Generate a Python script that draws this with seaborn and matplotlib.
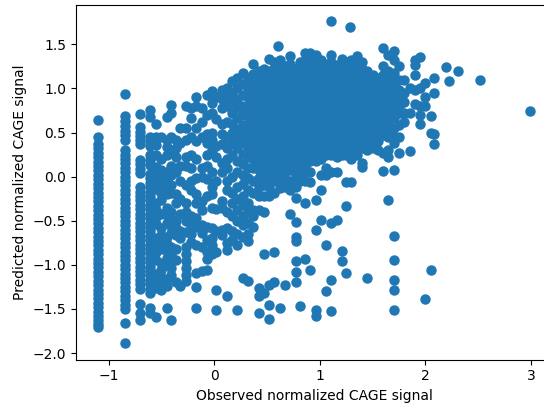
import matplotlib
matplotlib.use("Agg")
import matplotlib.pyplot as plt
import seaborn as sns
import pandas as pd

# ---- data (observed, predicted) ----
# observed value of the zero-count column
obs_zero = -1.10
pred_zero = [0.64, 0.45, 0.37, 0.32, 0.27, 0.22, 0.17, 0.12, 0.07, 0.02, -0.03, -0.08,
             -0.13, -0.18, -0.23, -0.28, -0.33, -0.38, -0.43, -0.48, -0.53, -0.58, -0.63,
             -0.68, -0.73, -0.78, -0.83, -0.88, -0.93, -0.98, -1.03, -1.08, -1.13, -1.18,
             -1.23, -1.28, -1.33, -1.38, -1.43, -1.48, -1.53, -1.58, -1.63, -1.67, -1.71]

# discrete low-count columns
low_cols = [
    (-0.85, [0.94, 0.69, 0.63, 0.57, 0.52, 0.47, 0.42, 0.30, 0.25, 0.20, 0.15, 0.10, 0.05,
             0.00, -0.05, -0.10, -0.15, -0.20, -0.25, -0.30, -0.35, -0.40, -0.45, -0.50,
             -0.55, -0.60, -0.65, -0.70, -0.75, -0.80, -0.85, -0.90, -0.95, -1.00, -1.05,
             -1.10, -1.15, -1.20, -1.25, -1.30, -1.35, -1.40, -1.45, -1.50, -1.66, -1.89]),
    (-0.70, [0.71, 0.56, 0.51, 0.46, 0.41, 0.37, 0.19, 0.14, 0.09, 0.04, -0.12, -0.17,
             -0.22, -0.27, -0.32, -0.37, -0.42, -0.47, -0.52, -0.57, -0.62, -0.67, -0.72,
             -0.77, -0.82, -0.87, -0.92, -0.97, -1.02, -1.07, -1.12, -1.17, -1.22, -1.27,
             -1.44, -1.55, -1.63]),
    (-0.61, [0.75, 0.68, 0.45, 0.40, 0.35, 0.24, 0.19, 0.13, 0.03, -0.02, -0.07, -0.12,
             -0.17, -0.22, -0.27, -0.32, -0.37, -0.42, -0.47, -0.52, -0.57, -0.62, -0.67,
             -0.72, -0.77, -0.82, -0.87, -0.92, -0.97, -1.02, -1.07, -1.12, -1.17, -1.22,
             -1.27, -1.32, -1.49, -1.55]),
]

left_band_cols = [
    (-0.55, [0.60, 0.45, 0.36, 0.25, 0.11, 0.02, -0.06, -0.14, -0.30, -0.38, -0.46,
             -0.54, -0.70, -0.78, -0.86, -0.94, -1.10, -1.18, -1.26, -1.59]),
    (-0.50, [0.45, 0.20, 0.08, -0.02, -0.10, -0.18, -0.26, -0.42, -0.58, -0.66,
             -0.74, -0.82, -0.98, -1.06, -1.14, -1.22, -1.28]),
    (-0.45, [0.68, 0.42, 0.34, 0.25, 0.05, -0.04, -0.12, -0.20, -0.36, -0.44, -0.52,
             -0.68, -0.76, -0.84, -0.92, -1.00, -1.16, -1.24, -1.49]),
    (-0.41, [0.81, 0.72, 0.45, 0.30, 0.12, 0.02, -0.10, -0.18, -0.40, -0.48,
             -0.56, -0.64, -0.80, -0.88, -0.96, -1.04, -1.12, -1.62]),
    (-0.36, [0.42, 0.32, 0.22, 0.05, -0.20, -0.30, -0.50, -0.58, -0.66, -0.82,
             -0.95, -1.19]),
    (-0.32, [0.55, 0.38, 0.12, -0.05, -0.25, -0.42, -0.62, -0.70, -1.24]),
    (-0.27, [0.80, 0.55, 0.41, 0.22, 0.12, -0.10, -0.30, -0.40, -0.50, -0.63,
             -0.80, -0.88, -0.96, -1.04, -1.12, -1.18]),
    (-0.22, [0.78, 0.67, 0.45, 0.25, 0.10, -0.05, -0.15, -0.45, -0.55, -0.65,
             -0.74]),
]

mid_cols = [
    (-0.17, [0.90, 0.80, 0.55, 0.40, 0.20, -0.02, -0.20, -0.30, -0.47, -0.57,
             -0.78, -1.09, -1.25, -1.49]),
    (-0.12, [0.78, 0.62, 0.45, 0.10, 0.00, -0.28, -0.38, -0.55, -0.64, -0.80,
             -1.07]),
    (-0.07, [0.93, 0.70, 0.48, 0.38, 0.25, 0.12, -0.03, -0.22, -0.57, -0.72,
             -0.85, -0.93, -1.06]),
    (-0.02, [0.97, 0.84, 0.72, 0.50, 0.42, 0.30, 0.05, -0.12, -0.20, -0.35,
             -0.58, -0.70, -0.78, -0.88]),
    (0.02, [0.90, 0.65, 0.35, 0.22, -0.05, -0.37, -0.62, -0.86, -1.28, -1.51]),
    (0.07, [0.98, 0.88, 0.78, 0.60, 0.48, 0.37, 0.15, 0.05, -0.28, -0.35,
            -0.60, -0.66]),
    (0.12, [1.00, 0.90, 0.80, 0.62, 0.45, 0.32, 0.20, 0.10, -0.05, -0.15, -0.40,
            -0.58, -0.75, -0.83, -1.35]),
    (0.17, [1.08, 0.95, 0.85, 0.72, 0.60, 0.50, 0.38, 0.25, 0.00, -0.18, -0.30,
            -0.45, -0.62, -0.72]),
    (0.22, [1.12, 1.00, 0.88, 0.78, 0.66, 0.54, 0.44, 0.32, 0.18, 0.05, -0.12, -0.25,
            -0.38, -0.50, -0.65, -0.78, -1.51]),
    (0.27, [1.17, 1.05, 0.92, 0.80, 0.70, 0.58, 0.48, 0.38, 0.26, 0.14, 0.02, -0.08,
            -0.22, -0.32, -0.45, -0.55, -0.68, -1.15]),
    (0.32, [1.12, 1.00, 0.90, 0.80, 0.70, 0.60, 0.50, 0.42, 0.32, 0.22, 0.10, -0.02,
            -0.15, -0.30, -0.40, -0.52, -0.65, -0.73, -1.18]),
    (0.37, [1.28, 1.16, 1.05, 0.95, 0.86, 0.76, 0.66, 0.58, 0.50, 0.40, 0.30, 0.20, 0.10,
            -0.05, -0.18, -0.38, -0.45, -0.57]),
    (0.42, [1.20, 1.10, 1.00, 0.92, 0.84, 0.76, 0.68, 0.60, 0.52, 0.44, 0.36, 0.28, 0.18,
            0.08, -0.02, -0.12, -0.22, -0.38, -1.26, -1.35, -1.55]),
]

core_cols = [
    (0.47, [1.22, 1.13, 1.05, 0.97, 0.90, 0.82, 0.75, 0.67, 0.60, 0.52, 0.45, 0.37, 0.30,
            0.22, 0.15, 0.07, 0.00, -0.10, -0.22, -0.40, -0.88, -1.32]),
    (0.52, [1.33, 1.20, 1.12, 1.04, 0.96, 0.88, 0.80, 0.72, 0.64, 0.56, 0.48, 0.40, 0.32,
            0.24, 0.16, 0.08, 0.00, -0.12, -0.22, -1.23, -1.45, -1.61]),
    (0.57, [1.30, 1.22, 1.15, 1.07, 1.00, 0.92, 0.85, 0.77, 0.70, 0.62, 0.55, 0.47, 0.40,
            0.32, 0.25, 0.17, 0.10, 0.02, -0.05, -0.18, -0.85, -1.19]),
    (0.60, [1.48]),
    (0.62, [1.32, 1.24, 1.16, 1.08, 1.00, 0.92, 0.84, 0.76, 0.68, 0.60, 0.52, 0.44, 0.36,
            0.28, 0.20, 0.12, 0.04, -0.04, -0.13, -1.49]),
    (0.67, [1.25, 1.17, 1.10, 1.02, 0.95, 0.87, 0.80, 0.72, 0.65, 0.57, 0.50, 0.42, 0.35,
            0.27, 0.20, 0.12, 0.05, -0.03, -0.12, -1.23]),
    (0.72, [1.37, 1.28, 1.20, 1.12, 1.04, 0.96, 0.88, 0.80, 0.72, 0.64, 0.56, 0.48, 0.40,
            0.32, 0.24, 0.16, 0.08, -0.05, -0.15, -0.42]),
    (0.77, [1.22, 1.15, 1.07, 1.00, 0.92, 0.85, 0.77, 0.70, 0.62, 0.55, 0.47, 0.40, 0.32,
            0.25, 0.17, 0.10, 0.02, -0.05, -0.12, -0.24, -0.51, -0.68, -0.73, -0.96, -1.08,
            -1.19]),
    (0.81, [1.30, 1.22, 1.14, 1.06, 0.98, 0.90, 0.82, 0.74, 0.66, 0.58, 0.50, 0.42, 0.34,
            0.26, 0.18, 0.10, 0.02, -0.05, -1.47]),
    (0.86, [1.40, 1.32, 1.25, 1.17, 1.10, 1.02, 0.95, 0.87, 0.80, 0.72, 0.65, 0.57, 0.50,
            0.42, 0.35, 0.27, 0.20, 0.12, 0.05, -0.05, -0.30, -0.93]),
    (0.91, [1.40, 1.30, 1.22, 1.14, 1.06, 0.98, 0.90, 0.82, 0.74, 0.66, 0.58, 0.50, 0.42,
            0.34, 0.26, 0.18, 0.05, -0.06, -1.06]),
    (0.96, [1.38, 1.30, 1.22, 1.15, 1.07, 1.00, 0.92, 0.85, 0.77, 0.70, 0.62, 0.55, 0.47,
            0.40, 0.32, 0.25, 0.18, -0.26, -0.60, -1.51, -1.58]),
    (1.01, [1.32, 1.25, 1.17, 1.10, 1.02, 0.95, 0.87, 0.80, 0.72, 0.65, 0.57, 0.50, 0.42,
            0.35, 0.27, 0.20, 0.02, -0.15, -0.49]),
    (1.06, [1.28, 1.20, 1.12, 1.04, 0.96, 0.88, 0.80, 0.72, 0.64, 0.56, 0.48, 0.40, 0.32,
            0.24, 0.10, 0.02, -0.77, -1.30]),
    (1.11, [1.76, 1.38, 1.30, 1.22, 1.15, 1.07, 1.00, 0.92, 0.85, 0.77, 0.70, 0.62, 0.55,
            0.47, 0.40, 0.32, 0.25, 0.05, -0.53, -1.17, -1.52]),
    (1.16, [1.26, 1.18, 1.10, 1.02, 0.94, 0.86, 0.78, 0.70, 0.62, 0.54, 0.46, 0.38, 0.30,
            0.22, 0.05, -0.49]),
    (1.21, [1.33, 1.22, 1.15, 1.07, 1.00, 0.92, 0.85, 0.77, 0.70, 0.62, 0.55, 0.47, 0.40,
            0.32, 0.25, -0.84, -0.96]),
    (1.25, [1.30, 1.20, 1.12, 1.04, 0.96, 0.88, 0.80, 0.72, 0.64, 0.56, 0.48, 0.40, 0.32,
            0.24, -0.06, -0.33, -1.09]),
    (1.29, [1.70]),
    (1.30, [1.32, 1.25, 1.17, 1.10, 1.02, 0.95, 0.87, 0.80, 0.72, 0.65, 0.57, 0.50, 0.42,
            0.35, 0.27, 0.20, -0.06]),
    (1.35, [1.37, 1.28, 1.20, 1.12, 1.04, 0.96, 0.88, 0.80, 0.72, 0.64, 0.56, 0.48, 0.40,
            0.32, 0.24]),
    (1.40, [1.30, 1.22, 1.15, 1.07, 1.00, 0.92, 0.85, 0.77, 0.70, 0.62, 0.55, 0.47, 0.40,
            0.32, 0.15, 0.11]),
    (1.45, [1.20, 1.12, 1.04, 0.96, 0.88, 0.80, 0.72, 0.64, 0.56, 0.48, 0.40, 0.30, -1.15]),
    (1.50, [1.15, 1.07, 1.00, 0.92, 0.85, 0.77, 0.70, 0.62, 0.55, 0.47, 0.40, 0.32]),
    (1.55, [1.12, 1.04, 0.96, 0.88, 0.80, 0.72, 0.64, 0.56, 0.48, 0.40, 0.30]),
    (1.60, [1.46, 1.25, 1.15, 1.07, 1.00, 0.92, 0.85, 0.77, 0.70, 0.62, 0.55, 0.47, 0.27,
            0.06]),
    (1.65, [1.38, 1.20, 1.10, 1.02, 0.94, 0.86, 0.78, 0.70, 0.62, 0.54, 0.45, 0.30, 0.22,
            -0.26]),
]

right_cols = [
    (1.70, [1.42, 1.32, 1.18, 1.08, 1.00, 0.90, 0.82, 0.74, 0.66, 0.55, 0.45, 0.38, 0.08,
            -0.67, -0.94, -1.17, -1.29, -1.51]),
    (1.75, [1.25, 1.10, 0.98, 0.88, 0.80, 0.72, 0.58, 0.45, 0.27]),
    (1.80, [1.10, 0.95, 0.85, 0.72, 0.62]),
    (1.85, [1.00, 0.72, 0.29]),
    (1.90, [1.32, 1.27, 1.15, 0.98, 0.82]),
    (1.95, [1.36, 1.00, 0.80, 0.70, 0.60]),
    (2.00, [1.06, 0.90, 0.80, -1.39]),
    (2.05, [0.69, 0.50, -1.06]),
    (2.08, [1.12, 0.95, 0.48, 0.37]),
    (2.20, [1.245]),
    (2.22, [1.083]),
    (2.31, [1.20]),
    (2.52, [1.09]),
    (2.99, [0.743]),
]

x_label = "Observed normalized CAGE signal"
y_label = "Predicted normalized CAGE signal"

# ---- build table ----
obs, pred = [], []
obs += [obs_zero] * len(pred_zero)
pred += pred_zero
for group in (low_cols, left_band_cols, mid_cols, core_cols, right_cols):
    for xv, ys in group:
        obs += [xv] * len(ys)
        pred += ys
df = pd.DataFrame({"observed": obs, "predicted": pred})

# ---- draw ----
fig = plt.figure(figsize=(5.44, 4.04), dpi=100)
ax = fig.add_axes([0.1397, 0.1097, 0.875, 0.8767])
sns.scatterplot(data=df, x="observed", y="predicted", ax=ax,
                color="#1f77b4", s=36, edgecolor="face", linewidth=1.5)
ax.set_xlim(-1.31, 3.20)
ax.set_ylim(-2.075, 1.94)
ax.set_xticks([-1, 0, 1, 2, 3])
ax.set_xlabel(x_label)
ax.set_ylabel(y_label)
fig.savefig("out.png", dpi=100)
